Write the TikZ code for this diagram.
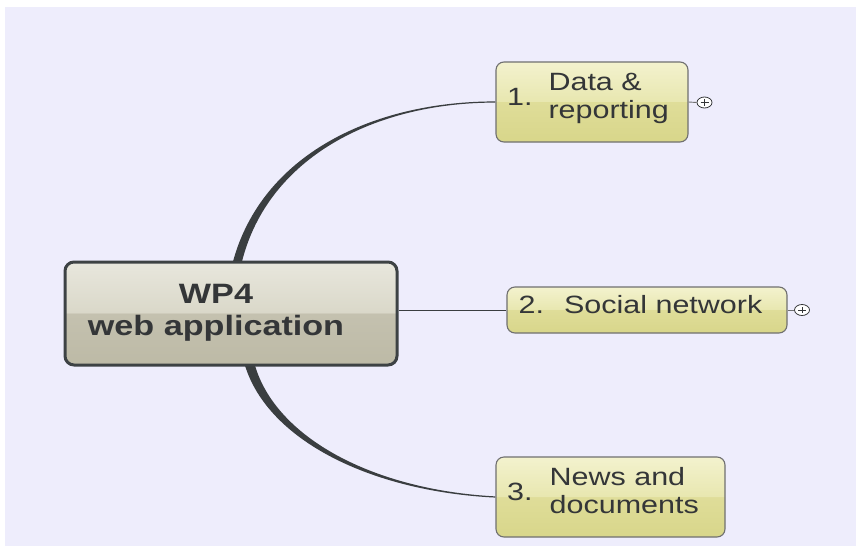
\documentclass[tikz,border=0pt]{standalone}
\usepackage{fontspec}
\setmainfont{Liberation Sans}[FakeStretch=1.22]
\usetikzlibrary{calc,shapes.geometric}

% palette
\definecolor{lav}{RGB}{238,237,252}
\definecolor{ink}{RGB}{52,54,56}
\definecolor{linkcol}{RGB}{58,62,64}
\definecolor{hubEdge}{RGB}{61,66,68}
\definecolor{hubTop}{RGB}{232,231,221}
\definecolor{hubUpMid}{RGB}{218,216,201}
\definecolor{hubLoMid}{RGB}{196,193,175}
\definecolor{hubBot}{RGB}{189,186,166}
\definecolor{topicEdge}{RGB}{112,112,112}
\definecolor{topTop}{RGB}{243,242,206}
\definecolor{topUpMid}{RGB}{232,231,176}
\definecolor{topLoMid}{RGB}{223,221,153}
\definecolor{topBot}{RGB}{216,214,138}

% two-tone glossy fills (bottom to top)
\pgfdeclareverticalshading{hubshade}{100bp}{color(0bp)=(hubBot); color(25bp)=(hubBot); color(50bp)=(hubLoMid); color(50.5bp)=(hubUpMid); color(75bp)=(hubTop); color(100bp)=(hubTop)}
\pgfdeclareverticalshading{topicshade}{100bp}{color(0bp)=(topBot); color(25bp)=(topBot); color(50bp)=(topLoMid); color(50.5bp)=(topUpMid); color(75bp)=(topTop); color(100bp)=(topTop)}

\pgfdeclarelayer{bg}
\pgfdeclarelayer{links}
\pgfsetlayers{bg,links,main}

\begin{document}
\begin{tikzpicture}[x=1pt,y=-1pt,
  hub/.style={draw=hubEdge, line width=3pt, rounded corners=9pt, shade, shading=hubshade,
    minimum width=332pt, minimum height=103pt, inner sep=0pt,
    font=\bfseries\fontsize{28}{32}\selectfont, text=ink},
  topic/.style={draw=topicEdge, line width=1.1pt, rounded corners=8pt, shade, shading=topicshade,
    inner sep=0pt, text height=20pt, text depth=14pt,
    font=\fontsize{25}{28}\selectfont, text=ink},
  expander/.style={ellipse, draw=ink, fill=white, line width=0.8pt,
    minimum width=15pt, minimum height=11pt, inner sep=0pt,
    path picture={
      \draw[line width=1pt,ink] ([xshift=-4pt]path picture bounding box.center) -- ([xshift=4pt]path picture bounding box.center);
      \draw[line width=1pt,ink] ([yshift=-3.2pt]path picture bounding box.center) -- ([yshift=3.2pt]path picture bounding box.center);
    }},
  stub/.style={draw=topicEdge, line width=0.9pt},
  link/.style={fill=linkcol},
  thinlink/.style={draw=linkcol, line width=1pt}
]
\useasboundingbox (0,0) rectangle (856,546);

\begin{pgfonlayer}{bg}
  \fill[white] (0,0) rectangle (856,546);
  \fill[lav] (5,7) rectangle (856,546);
\end{pgfonlayer}

% central topic
\node[hub] (wp) at (231,313.5)
  {\hspace*{-30pt}\begin{tabular}{@{}c@{}}WP4\\web application\end{tabular}};

% subtopics
\node[topic, minimum width=192pt, minimum height=80pt] (t1) at (592,102)
  {1.\hspace{16pt}\begin{tabular}[c]{@{}l@{}}Data \&\\reporting\end{tabular}\hspace*{8pt}};
\node[topic, minimum width=280pt, minimum height=46pt] (t2) at (647,310)
  {2.\hspace{20pt}Social network\hspace*{13pt}};
\node[topic, minimum width=229pt, minimum height=80pt] (t3) at (610.5,497)
  {3.\hspace{17pt}\begin{tabular}[c]{@{}l@{}}News and\\documents\end{tabular}\hspace*{15pt}};

% collapsed-branch markers
\node[expander] (x1) at (704.5,102.5) {};
\node[expander] (x2) at (802,310) {};
\draw[stub] (t1.east) -- (x1.west);
\draw[stub] (t2.east) -- (x2.west);

% tapered branches
\begin{pgfonlayer}{links}
  \fill[link] ($(wp.north)+(2,1)$) .. controls (262,155) and (372,101.4) .. ($(t1.west)+(0,-0.6)$)
     -- ($(t1.west)+(0,0.6)$) .. controls (374,102.5) and (268,158) .. ($(wp.north)+(11,1)$) -- cycle;
  \fill[link] ($(wp.south)+(14,-1)$) .. controls (268,440) and (370,491.4) .. ($(t3.west)+(0,0.6)$)
     -- ($(t3.west)+(0,-0.6)$) .. controls (372,489.8) and (276,437) .. ($(wp.south)+(24,-1)$) -- cycle;
  \draw[thinlink] (t2.west -| wp.east) -- (t2.west);
\end{pgfonlayer}
\end{tikzpicture}
\end{document}
